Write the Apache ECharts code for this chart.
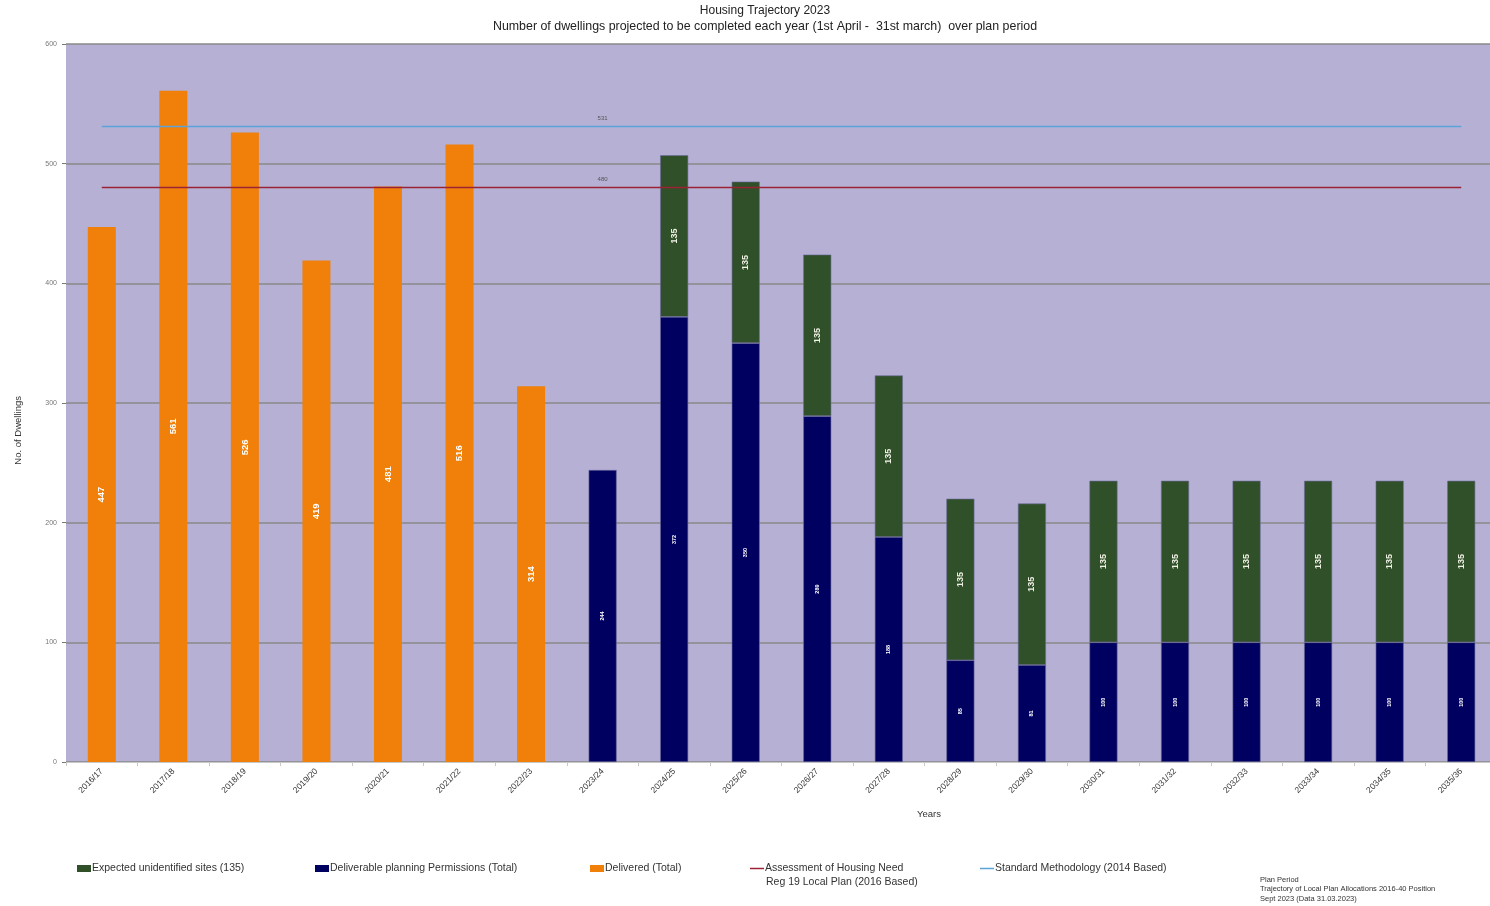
<!DOCTYPE html>
<html>
<head>
<meta charset="utf-8">
<title>Housing Trajectory 2023</title>
<script src="https://cdn.jsdelivr.net/npm/echarts@6/dist/echarts.min.js"></script>
<style>
  html, body { margin: 0; padding: 0; background: #ffffff; overflow: hidden; }
  #chart { width: 1490px; height: 906px; }
</style>
</head>
<body>
<div id="chart"></div>
<script>
// Monitoring years (1st April - 31st March)
const years = ['2016/17','2017/18','2018/19','2019/20','2020/21','2021/22','2022/23',
  '2023/24','2024/25','2025/26','2026/27','2027/28','2028/29','2029/30',
  '2030/31','2031/32','2032/33','2033/34','2034/35','2035/36'];

// Completed dwellings
const delivered = [447, 561, 526, 419, 481, 516, 314,
  null, null, null, null, null, null, null, null, null, null, null, null, null];

// Deliverable planning permissions (total)
const permissions = [null, null, null, null, null, null, null,
  244, 372, 350, 289, 188, 85, 81, 100, 100, 100, 100, 100, 100];

// Expected unidentified sites allowance
const windfall = [null, null, null, null, null, null, null,
  null, 135, 135, 135, 135, 135, 135, 135, 135, 135, 135, 135, 135];

// Annual requirement figures
const standardMethod = 531;
const housingNeed = 480;

const yTicks = { min: 0, max: 600, interval: 100 };

const FONT = 'Liberation Sans';

const chart = echarts.init(document.getElementById('chart'), null, { renderer: 'canvas' });

function flatLine(value) {
  // constant line across every year, labelled once above 2023/24
  return years.map((y, i) => i === 7
    ? { value: value, label: { show: true, position: 'top', distance: 5, formatter: String(value), fontSize: 6, color: '#555', fontFamily: FONT } }
    : value);
}

const barLabel = (size) => ({
  show: true,
  position: 'inside',
  rotate: 90,
  color: '#ffffff',
  fontWeight: 'bold',
  fontSize: size,
  fontFamily: FONT,
  formatter: p => (p.value == null ? '' : p.value)
});

const legendText = { fontSize: 10.5, color: '#333', fontFamily: FONT, padding: [0, 0, 0, -4] };
const legendBase = {
  top: 858,
  itemWidth: 14,
  itemHeight: 7,
  itemGap: 0,
  itemStyle: { borderWidth: 0 },
  textStyle: legendText
};

const option = {
  animation: false,
  backgroundColor: '#ffffff',
  title: {
    text: 'Housing Trajectory 2023',
    subtext: 'Number of dwellings projected to be completed each year (1st April -  31st march)  over plan period',
    left: 760,
    textAlign: 'center',
    top: 0,
    itemGap: 4,
    textStyle: { fontSize: 12, fontWeight: 'normal', color: '#222', fontFamily: FONT },
    subtextStyle: { fontSize: 12.4, color: '#222', fontFamily: FONT }
  },
  grid: {
    left: 66, width: 1431, top: 44, bottom: 144,
    containLabel: false,
    outerBoundsMode: 'none',
    show: true,
    backgroundColor: '#b5b0d4',
    borderWidth: 0
  },
  legend: [
    Object.assign({}, legendBase, { left: 72, data: [{ name: 'Expected unidentified sites (135)', icon: 'rect' }] }),
    Object.assign({}, legendBase, { left: 310, data: [{ name: 'Deliverable planning Permissions (Total)', icon: 'rect' }] }),
    Object.assign({}, legendBase, { left: 585, data: [{ name: 'Delivered (Total)', icon: 'rect' }] }),
    Object.assign({}, legendBase, { left: 745, itemHeight: 1.5, data: [{ name: 'Assessment of Housing Need', icon: 'rect' }] }),
    Object.assign({}, legendBase, { left: 975, itemHeight: 1.5, data: [{ name: 'Standard Methodology (2014 Based)', icon: 'rect' }] })
  ],
  xAxis: {
    type: 'category',
    data: years,
    boundaryGap: true,
    axisLine: { show: true, lineStyle: { color: '#c8c8c8' } },
    axisTick: { show: true, length: 4, lineStyle: { color: '#c8c8c8' } },
    axisLabel: { rotate: 45, fontSize: 8.5, color: '#333', fontFamily: FONT, margin: 8, interval: 0 }
  },
  yAxis: {
    type: 'value',
    min: yTicks.min, max: yTicks.max, interval: yTicks.interval,
    axisLine: { show: false },
    axisTick: { show: true, length: 4, lineStyle: { color: '#777' } },
    axisLabel: { fontSize: 7, color: '#777', fontFamily: FONT, margin: 9 },
    splitLine: { show: true, lineStyle: { color: '#8a8a8a', width: 1.5 } }
  },
  series: [
    {
      name: 'Delivered (Total)',
      type: 'bar',
      stack: 'total',
      barWidth: 28,
      data: delivered,
      itemStyle: { color: '#f0800a' },
      label: barLabel(9.5)
    },
    {
      name: 'Deliverable planning Permissions (Total)',
      type: 'bar',
      stack: 'total',
      barWidth: 28,
      data: permissions,
      itemStyle: { color: '#000060', borderColor: '#6b6a9a', borderWidth: 0.6 },
      label: barLabel(5.5)
    },
    {
      name: 'Expected unidentified sites (135)',
      type: 'bar',
      stack: 'total',
      barWidth: 28,
      data: windfall,
      itemStyle: { color: '#2f5028', borderColor: '#6b6a9a', borderWidth: 0.6 },
      label: Object.assign(barLabel(9), { color: '#f2f2e6' })
    },
    {
      name: 'Assessment of Housing Need',
      type: 'line',
      data: flatLine(housingNeed),
      symbol: 'circle',
      symbolSize: 0,
      showSymbol: true,
      lineStyle: { color: '#9b2335', width: 1.5 },
      itemStyle: { color: '#9b2335' },
      z: 5
    },
    {
      name: 'Standard Methodology (2014 Based)',
      type: 'line',
      data: flatLine(standardMethod),
      symbol: 'circle',
      symbolSize: 0,
      showSymbol: true,
      lineStyle: { color: '#5ba3d9', width: 1.5 },
      itemStyle: { color: '#5ba3d9' },
      z: 5
    }
  ],
  graphic: [
    {
      type: 'text',
      left: 13, top: 396,
      rotation: Math.PI / 2,
      style: { text: 'No. of Dwellings', fontSize: 9.5, fill: '#333', fontFamily: FONT }
    },
    {
      type: 'text',
      left: 917, top: 809,
      style: { text: 'Years', fontSize: 9.5, fill: '#333', fontFamily: FONT }
    },
    {
      type: 'text',
      left: 766, top: 877,
      style: { text: 'Reg 19 Local Plan (2016 Based)', fontSize: 10.5, fill: '#333', fontFamily: FONT }
    },
    {
      type: 'text',
      left: 1260, top: 875,
      style: {
        text: 'Plan Period\nTrajectory of Local Plan Allocations 2016-40 Position\nSept 2023 (Data 31.03.2023)',
        fontSize: 7.5, lineHeight: 9.5, fill: '#333', fontFamily: FONT
      }
    }
  ]
};

chart.setOption(option);
</script>
</body>
</html>
